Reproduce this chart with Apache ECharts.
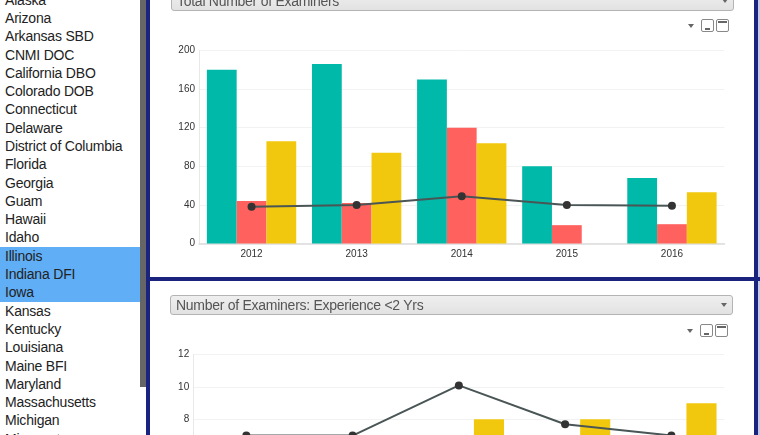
<!DOCTYPE html>
<html>
<head>
<meta charset="utf-8">
<title>Examiners</title>
<script src="https://cdn.jsdelivr.net/npm/echarts@6/dist/echarts.min.js"></script>
<style>
html, body { margin: 0; padding: 0; width: 760px; height: 435px; overflow: hidden; background: #fff; font-family: "Liberation Sans", Arial, sans-serif; }
.abs { position: absolute; }
#list { left: 0; top: -9.4px; width: 140px; }
#list div { height: 18.3px; line-height: 18.3px; padding-left: 5px; font-size: 14px; letter-spacing: -0.2px; color: #222; white-space: nowrap; }
#list div.sel { background: #60aef6; }
.navy { background: #1a237e; }
.drop { background: linear-gradient(#efefef, #e2e2e2); border: 1px solid #b4b4b4; border-radius: 3px; box-sizing: border-box; color: #555; font-size: 14px; letter-spacing: -0.27px; padding-left: 5px; }
.arrow { width: 0; height: 0; border-left: 3.5px solid transparent; border-right: 3.5px solid transparent; border-top: 4px solid #666; }
.btn { width: 13px; height: 13px; border: 1px solid #888; border-radius: 2px; box-sizing: border-box; background: #fff; }
.btn i { position: absolute; background: #666; }
</style>
</head>
<body>
<div id="list" class="abs"></div>
<div class="abs" style="left:140px;top:0;width:6px;height:387px;background:#666"></div>
<div class="abs navy" style="left:146px;top:0;width:4px;height:435px"></div>
<div class="abs navy" style="left:754px;top:0;width:4px;height:435px"></div>
<div class="abs" style="left:758px;top:0;width:2px;height:435px;background:#c5cae9"></div>
<div class="abs navy" style="left:150px;top:277px;width:610px;height:4px"></div>

<div id="chart1" class="abs" style="left:150px;top:0;width:604px;height:277px"></div>
<div id="chart2" class="abs" style="left:150px;top:281px;width:604px;height:300px"></div>

<div class="abs drop" style="left:171px;top:-9px;width:563px;height:20px;line-height:18px">Total Number of Examiners</div>
<div class="abs arrow" style="left:722px;top:-1px"></div>
<div class="abs drop" style="left:170px;top:295px;width:563px;height:20px;line-height:18px">Number of Examiners: Experience &lt;2 Yrs</div>
<div class="abs arrow" style="left:721px;top:303px"></div>

<div class="abs arrow" style="left:688px;top:24px"></div>
<div class="abs btn" style="left:700.5px;top:19px"><i style="left:3px;top:8px;width:5px;height:2px"></i></div>
<div class="abs btn" style="left:715.5px;top:19px"><i style="left:1px;top:1px;width:9px;height:2px"></i></div>
<div class="abs arrow" style="left:687px;top:329px"></div>
<div class="abs btn" style="left:700px;top:323.5px"><i style="left:3px;top:8px;width:5px;height:2px"></i></div>
<div class="abs btn" style="left:715px;top:323.5px"><i style="left:1px;top:1px;width:9px;height:2px"></i></div>

<script>
var institutions = ["Alaska", "Arizona", "Arkansas SBD", "CNMI DOC", "California DBO", "Colorado DOB", "Connecticut", "Delaware", "District of Columbia", "Florida", "Georgia", "Guam", "Hawaii", "Idaho", "Illinois", "Indiana DFI", "Iowa", "Kansas", "Kentucky", "Louisiana", "Maine BFI", "Maryland", "Massachusetts", "Michigan", "Minnesota"];
var selected = ["Illinois", "Indiana DFI", "Iowa"];
var years = ["2012", "2013", "2014", "2015", "2016"];

// top chart
var totalTeal = [180, 186, 170, 80, 68];
var totalRed = [44, 42, 120, 19, 20];
var totalYellow = [106, 94, 104, null, 53];
var totalLine = [38, 40, 49, 40, 39];

// bottom chart, only the part above the window edge can be read
var expTeal = [null, null, null, null, null];
var expRed = [null, null, null, null, null];
var expYellow = [null, null, 8, 8, 9];
var expLine = [7, 7, 10.1, 7.7, 7];

var listEl = document.getElementById("list");
institutions.forEach(function(name) {
  var row = document.createElement("div");
  row.textContent = name;
  if (selected.indexOf(name) >= 0) row.className = "sel";
  listEl.appendChild(row);
});

function barSeries(values, color) {
  return {
    type: "bar",
    data: values,
    barGap: 0,
    barCategoryGap: "15%",
    itemStyle: { color: color },
    silent: true
  };
}

function makeOption(left, top, height, max, interval, teal, red, yellow, line) {
  return {
    animation: false,
    grid: { left: left, top: top, right: 29.5, height: height },
    xAxis: {
      type: "category",
      data: years,
      axisTick: { show: false },
      axisLine: { lineStyle: { color: "#dcdcdc", width: 1.5 } },
      axisLabel: { color: "#333", fontSize: 10, fontFamily: "Liberation Sans", margin: 6 }
    },
    yAxis: {
      type: "value",
      min: 0,
      max: max,
      interval: interval,
      axisLine: { show: true, lineStyle: { color: "#e8e8e8" } },
      axisTick: { show: false },
      splitLine: { lineStyle: { color: "#f2f2f2" } },
      axisLabel: { color: "#333", fontSize: 10, fontFamily: "Liberation Sans", margin: 4, padding: [2, 0, 0, 0] }
    },
    series: [
      barSeries(teal, "#00b9a9"),
      barSeries(red, "#ff615f"),
      barSeries(yellow, "#f2c80f"),
      {
        type: "line",
        data: line,
        z: 5,
        symbol: "circle",
        symbolSize: 8,
        itemStyle: { color: "#333" },
        lineStyle: { color: "#4a5555", width: 2 }
      }
    ]
  };
}

var chart1 = echarts.init(document.getElementById("chart1"));
chart1.setOption(makeOption(49, 50.5, 193, 200, 40, totalTeal, totalRed, totalYellow, totalLine));
var chart2 = echarts.init(document.getElementById("chart2"));
chart2.setOption(makeOption(43.2, 73.7, 194, 12, 2, expTeal, expRed, expYellow, expLine));
</script>
</body>
</html>
